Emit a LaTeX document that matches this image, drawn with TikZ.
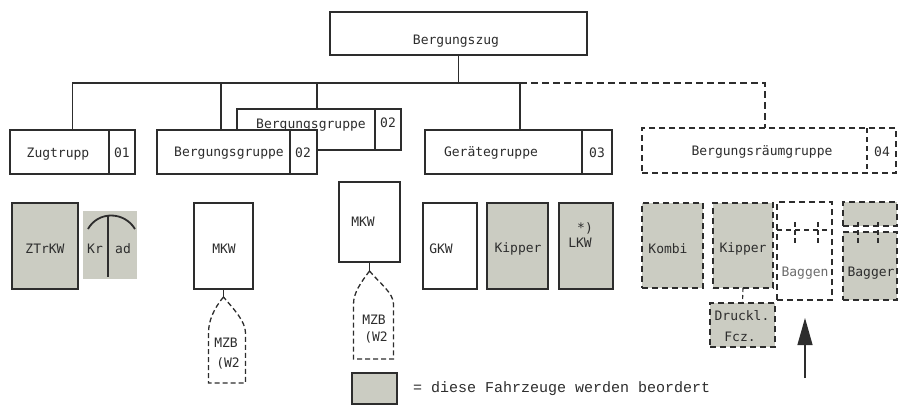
\documentclass[tikz,border=0pt]{standalone}
\usepackage{fontspec}
\newfontfamily\labfont{DejaVu Sans Mono}
\newfontfamily\legfont{Liberation Mono}
\usetikzlibrary{calc,arrows.meta}
\definecolor{fillgray}{RGB}{203,204,194}
\definecolor{ink}{RGB}{45,45,45}
\begin{document}
\begin{tikzpicture}[x=1pt,y=-1pt,
  box/.style={draw=ink,line width=1.1pt,fill=white,anchor=north west,inner sep=0pt,outer sep=0pt},
  gbox/.style={box,fill=fillgray},
  dbox/.style={box,dash pattern=on 6pt off 4pt},
  dgbox/.style={dbox,fill=fillgray},
  lab/.style={font=\labfont\fontsize{13}{15}\selectfont,text=ink,inner sep=0pt},
  conn/.style={draw=ink,line width=1.1pt},
  dconn/.style={conn,dash pattern=on 7pt off 4pt},
  boat/.style={draw=ink,line width=1.3pt,dash pattern=on 5pt off 3pt}]
\useasboundingbox (0,0) rectangle (898,405);
\fill[white] (0,0) rectangle (898,405);

% top box
\node[box,minimum width=257pt,minimum height=43pt] (zug) at (330,12) {};
\node[lab] (zugT) at (456,41) {Bergungszug};

% bus coordinates
\coordinate (busR) at (520,83);
\coordinate (busE) at (765,83);
\coordinate (b1c) at (221,83);
\coordinate (b2c) at (317,83);

% level 2 boxes
\node[box,minimum width=125pt,minimum height=44pt] (zt) at (10,130) {};
\draw[conn] (109,130) -- (109,174);
\node[lab] (ztT) at (58,154) {Zugtrupp};
\node[lab] (ztN) at (122,153) {01};

\node[box,minimum width=164pt,minimum height=41pt] (bg2) at (237,109) {};
\draw[conn] (375,109) -- (375,150);
\node[lab] (bg2T) at (311,125) {Bergungsgruppe};
\node[lab] (bg2N) at (388,123) {02};

\node[box,minimum width=160pt,minimum height=44pt] (bg1) at (157,130) {};
\draw[conn] (290,130) -- (290,174);
\node[lab] (bg1T) at (229,153) {Bergungsgruppe};
\node[lab] (bg1N) at (303,153) {02};

\node[box,minimum width=187pt,minimum height=44pt] (gg) at (425,130) {};
\draw[conn] (582,130) -- (582,174);
\node[lab] (ggT) at (491,153) {Gerätegruppe};
\node[lab] (ggN) at (597,153) {03};

\node[dbox,minimum width=254pt,minimum height=45pt] (brg) at (642,128) {};
\draw[conn,dash pattern=on 5pt off 4pt] (867,128) -- (867,173);
\node[lab] (brgT) at (762,152) {Bergungsräumgruppe};
\node[lab] (brgN) at (882,152) {04};

% tree connectors
\draw[conn] (zug.south) -- (zug.south |- busR);
\draw[conn] (zt.north) |- (busR);
\draw[conn] (busR) -- (busR |- gg.north);
\draw[conn] (b1c) -- (b1c |- bg1.north);
\draw[conn] (b2c) -- (b2c |- bg2.north);
\draw[dconn] (busR) -- (busE) -- (busE |- brg.north);

% vehicles
\node[gbox,minimum width=66pt,minimum height=86pt] (ztrkw) at (12,203) {};
\node[lab] (ztrkwT) at (45,249) {ZTrKW};

\node[fill=fillgray,anchor=north west,inner sep=0pt,minimum width=54pt,minimum height=68pt] (krad) at (83,211) {};
\draw[ink,line width=1.8pt] (88,229) .. controls (98,211) and (124,211) .. (135,229);
\draw[ink,line width=1.6pt] (108,216) -- (108,277);
\node[lab] (kradA) at (95,249) {Kr};
\node[lab] (kradB) at (123,249) {ad};

\node[box,minimum width=59pt,minimum height=86pt] (mkw1) at (194,203) {};
\node[lab] (mkw1T) at (224,249) {MKW};
\coordinate (t1) at ($(mkw1.south)+(0,8)$);
\draw[conn] (mkw1.south) -- (t1);
\draw[boat] (t1) .. controls ($(t1)+(-10,12)$) and ($(t1)+(-15,24)$) .. ($(t1)+(-15,36)$)
  -- ($(t1)+(-15,86)$) -- ($(t1)+(22,86)$) -- ($(t1)+(22,36)$)
  .. controls ($(t1)+(22,24)$) and ($(t1)+(10,12)$) .. (t1);
\node[lab] (mzb1) at (226,343) {MZB};
\node[lab] (w21) at (228,363) {(W2};

\node[box,minimum width=61pt,minimum height=80pt] (mkw2) at (339,182) {};
\node[lab] (mkw2T) at (363,222) {MKW};
\coordinate (t2) at ($(mkw2.south)+(0,9)$);
\draw[conn] (mkw2.south) -- (t2);
\draw[boat] (t2) .. controls ($(t2)+(-9,12)$) and ($(t2)+(-16,22)$) .. ($(t2)+(-16,33)$)
  -- ($(t2)+(-16,88)$) -- ($(t2)+(24,88)$) -- ($(t2)+(24,33)$)
  .. controls ($(t2)+(24,22)$) and ($(t2)+(10,12)$) .. (t2);
\node[lab] (mzb2) at (374,320) {MZB};
\node[lab] (w22) at (376,337) {(W2};

\node[box,minimum width=54pt,minimum height=86pt] (gkw) at (423,203) {};
\node[lab] (gkwT) at (441,249) {GKW};
\node[gbox,minimum width=61pt,minimum height=86pt] (kip1) at (487,203) {};
\node[lab] (kip1T) at (518,249) {Kipper};
\node[gbox,minimum width=54pt,minimum height=86pt] (lkw) at (559,203) {};
\node[lab] (lkwS) at (585,228) {*)};
\node[lab] (lkwT) at (580,243) {LKW};

\node[dgbox,minimum width=61pt,minimum height=85pt] (kombi) at (642,203) {};
\node[lab] (kombiT) at (668,249) {Kombi};
\node[dgbox,minimum width=60pt,minimum height=85pt] (kip2) at (713,203) {};
\node[lab] (kip2T) at (743,249) {Kipper};
\node[dgbox,minimum width=65pt,minimum height=44pt] (druck) at (710,303) {};
\node[lab] (druckA) at (742,316) {Druckl.};
\node[lab] (druckB) at (740,337) {Fcz.};
\draw[conn,dash pattern=on 4pt off 3pt] (kip2.south) -- (druck.north);

\node[dbox,minimum width=55pt,minimum height=98pt] (baggen) at (777,202) {};
\draw[conn,dash pattern=on 5pt off 4pt] (baggen.west |- 0,230) -- (baggen.east |- 0,230);
\draw[conn,dash pattern=on 5pt off 3pt] (795,222) -- (795,245);
\draw[conn,dash pattern=on 5pt off 3pt] (818,222) -- (818,245);
\node[lab,text=ink!70] (baggenT) at (805,273) {Baggen};

\node[dgbox,minimum width=54pt,minimum height=24pt] (baggerU) at (843,202) {};
\node[dgbox,minimum width=54pt,minimum height=68pt] (bagger) at (843,232) {};
\draw[conn,dash pattern=on 5pt off 3pt] (858,222) -- (858,245);
\draw[conn,dash pattern=on 5pt off 3pt] (878,222) -- (878,245);
\node[lab] (baggerT) at (871,273) {Bagger};

% arrow
\coordinate (arrS) at (805,378);
\coordinate (arrE) at (805,318);
\draw[conn,-{Triangle[length=27pt,width=15pt]}] (arrS) -- (arrE);

% legend
\node[gbox,minimum width=45pt,minimum height=31pt] (leg) at (352,373) {};
\node[anchor=west,inner sep=0pt,text=ink,font=\legfont\fontsize{15}{17}\selectfont] (legT) at (413,389) {= diese Fahrzeuge werden beordert};
\end{tikzpicture}
\end{document}
